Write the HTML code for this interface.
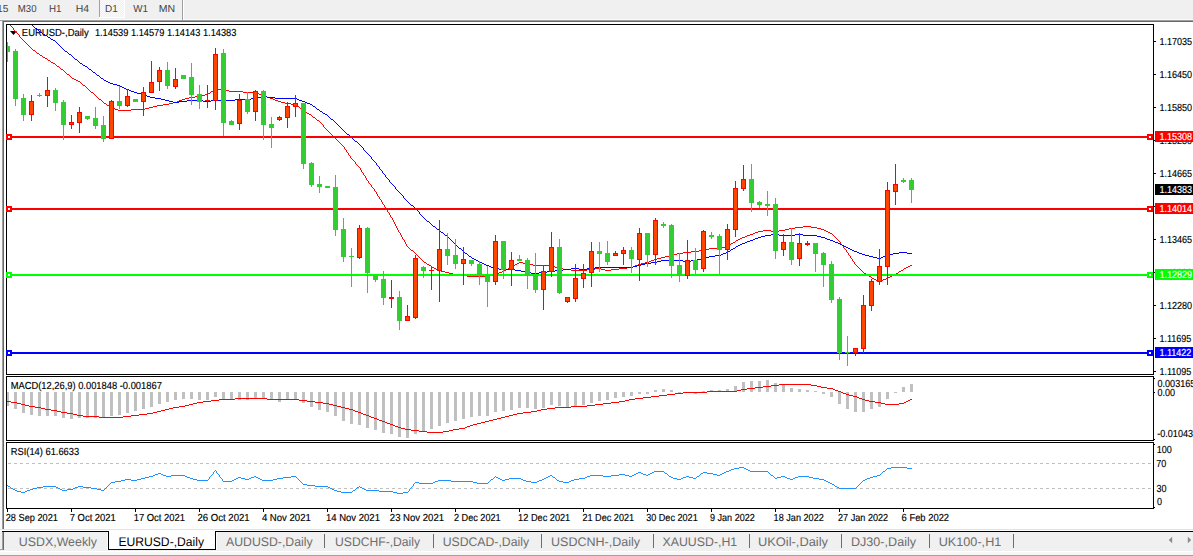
<!DOCTYPE html>
<html><head><meta charset="utf-8"><title>EURUSD-,Daily</title>
<style>
html,body{margin:0;padding:0;background:#f0f0f0;}
body{width:1193px;height:556px;overflow:hidden;position:relative;}
svg{position:absolute;left:0;top:0;display:block;font-family:"Liberation Sans", Arial, sans-serif;text-rendering:geometricPrecision;}
</style></head><body>
<svg width="1193" height="556" viewBox="0 0 1193 556">
<rect x="4" y="22" width="1189" height="507" fill="#fff"/>
<rect x="0" y="21" width="2" height="508" fill="#fafafa"/>
<rect x="0" y="20" width="1193" height="1" fill="#a0a0a0"/>
<rect x="3" y="21" width="1190" height="1" fill="#696969"/>
<rect x="2" y="20" width="1" height="510" fill="#a0a0a0"/>
<rect x="3" y="21" width="1" height="508" fill="#696969"/>
<rect x="0" y="19" width="1193" height="1" fill="#fafafa"/>
<defs><pattern id="dith" width="2" height="2" patternUnits="userSpaceOnUse"><rect width="2" height="2" fill="#f0f0f0"/><rect width="1" height="1" fill="#fbfbfb"/><rect x="1" y="1" width="1" height="1" fill="#fbfbfb"/></pattern></defs>
<rect x="99" y="0" width="26" height="18" fill="url(#dith)"/>
<rect x="99" y="0" width="1" height="18" fill="#a0a0a0"/>
<rect x="99" y="17" width="26" height="1" fill="#ffffff"/>
<rect x="124" y="0" width="1" height="18" fill="#ffffff"/>
<rect x="182" y="0" width="1" height="20" fill="#a0a0a0"/>
<rect x="183" y="0" width="1" height="20" fill="#ffffff"/>
<text x="17.81" y="12" font-size="10.2" fill="#444444" textLength="18.77" lengthAdjust="spacingAndGlyphs">M30</text>
<text x="49.00" y="12" font-size="10.2" fill="#444444" textLength="12.48" lengthAdjust="spacingAndGlyphs">H1</text>
<text x="75.84" y="12" font-size="10.2" fill="#444444" textLength="13.36" lengthAdjust="spacingAndGlyphs">H4</text>
<text x="104.99" y="12" font-size="10.2" fill="#444444" textLength="12.71" lengthAdjust="spacingAndGlyphs">D1</text>
<text x="133.15" y="12" font-size="10.2" fill="#444444" textLength="14.73" lengthAdjust="spacingAndGlyphs">W1</text>
<text x="158.74" y="12" font-size="10.2" fill="#444444" textLength="16.31" lengthAdjust="spacingAndGlyphs">MN</text>
<text x="-2.98" y="12" font-size="10.2" fill="#444444" textLength="11.41" lengthAdjust="spacingAndGlyphs">15</text>
<defs><clipPath id="cm"><rect x="7" y="25" width="1146" height="349"/></clipPath><clipPath id="cd"><rect x="7" y="377" width="1146" height="63"/></clipPath><clipPath id="cr"><rect x="7" y="443" width="1146" height="65"/></clipPath></defs>
<polygon points="10,31 17,31 13.5,35" fill="#000"/>
<text x="21.82" y="36" font-size="10.2" fill="#000" stroke="#000" stroke-width="0.15" textLength="66.90" lengthAdjust="spacingAndGlyphs">EURUSD-,Daily</text>
<text x="94.90" y="36" font-size="10.2" fill="#000" stroke="#000" stroke-width="0.15" textLength="141.52" lengthAdjust="spacingAndGlyphs">1.14539 1.14579 1.14143 1.14383</text>
<path d="M10 25h1v1h-1zM11 26h1v1h-1zM12 27h1v1h-1zM13 28h1v1h-1zM13 29h1v1h-1zM14 30h1v1h-1zM15 31h1v1h-1zM16 32h1v1h-1zM17 33h1v1h-1zM18 34h1v1h-1zM19 35h1v1h-1zM19 36h1v1h-1zM20 37h1v1h-1zM21 38h1v1h-1zM22 39h1v1h-1zM23 40h1v1h-1zM24 41h1v1h-1zM25 42h1v1h-1zM26 43h1v1h-1zM27 44h1v1h-1zM28 45h1v1h-1zM29 46h1v1h-1zM30 47h1v1h-1zM31 48h1v1h-1zM32 49h1v1h-1zM33 50h2v1h-2zM35 51h1v1h-1zM36 52h1v1h-1zM37 53h2v1h-2zM39 54h1v1h-1zM40 55h2v1h-2zM42 56h1v1h-1zM43 57h2v1h-2zM45 58h2v1h-2zM47 59h1v1h-1zM48 60h2v1h-2zM50 61h1v1h-1zM51 62h2v1h-2zM53 63h2v1h-2zM55 64h1v1h-1zM56 65h1v1h-1zM57 66h2v1h-2zM59 67h1v1h-1zM60 68h1v1h-1zM61 69h2v1h-2zM63 70h1v1h-1zM64 71h1v1h-1zM65 72h1v1h-1zM66 73h1v1h-1zM67 74h2v1h-2zM69 75h1v1h-1zM70 76h1v1h-1zM71 77h1v1h-1zM72 78h2v1h-2zM74 79h2v1h-2zM76 80h2v1h-2zM78 81h2v1h-2zM80 82h1v1h-1zM81 83h1v1h-1zM82 84h1v1h-1zM83 85h2v1h-2zM85 86h1v1h-1zM86 87h1v1h-1zM87 88h1v1h-1zM88 89h1v1h-1zM215 89h10v1h-10zM89 90h1v1h-1zM213 90h2v1h-2zM225 90h4v1h-4zM90 91h1v1h-1zM211 91h2v1h-2zM229 91h14v1h-14zM91 92h2v1h-2zM210 92h1v1h-1zM243 92h14v1h-14zM93 93h1v1h-1zM208 93h2v1h-2zM257 93h2v1h-2zM94 94h1v1h-1zM205 94h3v1h-3zM259 94h3v1h-3zM95 95h1v1h-1zM201 95h4v1h-4zM262 95h3v1h-3zM96 96h1v1h-1zM195 96h6v1h-6zM265 96h2v1h-2zM97 97h1v1h-1zM189 97h6v1h-6zM267 97h3v1h-3zM98 98h1v1h-1zM185 98h4v1h-4zM270 98h3v1h-3zM99 99h2v1h-2zM182 99h3v1h-3zM273 99h2v1h-2zM101 100h1v1h-1zM179 100h3v1h-3zM275 100h3v1h-3zM102 101h1v1h-1zM177 101h2v1h-2zM278 101h3v1h-3zM103 102h1v1h-1zM173 102h4v1h-4zM281 102h4v1h-4zM104 103h2v1h-2zM169 103h4v1h-4zM285 103h6v1h-6zM106 104h1v1h-1zM163 104h6v1h-6zM291 104h5v1h-5zM107 105h2v1h-2zM157 105h6v1h-6zM296 105h1v1h-1zM109 106h2v1h-2zM153 106h4v1h-4zM297 106h2v1h-2zM111 107h2v1h-2zM149 107h4v1h-4zM299 107h1v1h-1zM113 108h2v1h-2zM145 108h4v1h-4zM300 108h1v1h-1zM115 109h3v1h-3zM131 109h14v1h-14zM301 109h2v1h-2zM118 110h13v1h-13zM303 110h1v1h-1zM304 111h2v1h-2zM306 112h1v1h-1zM307 113h2v1h-2zM309 114h2v1h-2zM311 115h1v1h-1zM312 116h1v1h-1zM313 117h2v1h-2zM315 118h1v1h-1zM316 119h1v1h-1zM317 120h2v1h-2zM319 121h1v1h-1zM320 122h1v1h-1zM321 123h1v1h-1zM322 124h1v1h-1zM323 125h1v1h-1zM323 126h1v1h-1zM324 127h1v1h-1zM325 128h1v1h-1zM326 129h1v1h-1zM327 130h1v1h-1zM328 131h1v1h-1zM329 132h1v1h-1zM330 133h1v1h-1zM331 134h1v1h-1zM332 135h1v1h-1zM333 136h1v1h-1zM334 137h1v1h-1zM335 138h1v1h-1zM336 139h1v1h-1zM337 140h1v1h-1zM338 141h1v1h-1zM339 142h1v1h-1zM340 143h1v1h-1zM341 144h1v1h-1zM342 145h1v1h-1zM343 146h1v1h-1zM344 147h1v1h-1zM344 148h1v1h-1zM345 149h1v1h-1zM346 150h1v1h-1zM346 151h1v1h-1zM347 152h1v1h-1zM348 153h1v1h-1zM348 154h1v1h-1zM349 155h1v1h-1zM350 156h1v1h-1zM350 157h1v1h-1zM351 158h1v1h-1zM352 159h1v1h-1zM353 160h1v1h-1zM354 161h1v1h-1zM355 162h1v1h-1zM355 163h1v1h-1zM356 164h1v1h-1zM357 165h1v1h-1zM358 166h1v1h-1zM359 167h1v1h-1zM360 168h1v1h-1zM360 169h1v1h-1zM361 170h1v1h-1zM361 171h1v1h-1zM362 172h1v1h-1zM363 173h1v1h-1zM363 174h1v1h-1zM364 175h1v1h-1zM365 176h1v1h-1zM365 177h1v1h-1zM366 178h1v1h-1zM366 179h1v1h-1zM367 180h1v1h-1zM368 181h1v1h-1zM368 182h1v1h-1zM369 183h1v1h-1zM370 184h1v1h-1zM371 185h1v1h-1zM371 186h1v1h-1zM372 187h1v1h-1zM373 188h1v1h-1zM374 189h1v1h-1zM374 190h1v1h-1zM375 191h1v1h-1zM376 192h1v1h-1zM376 193h1v1h-1zM377 194h1v1h-1zM377 195h1v1h-1zM378 196h1v1h-1zM379 197h1v1h-1zM379 198h1v1h-1zM380 199h1v1h-1zM381 200h1v1h-1zM381 201h1v1h-1zM382 202h1v1h-1zM382 203h1v1h-1zM383 204h1v1h-1zM384 205h1v1h-1zM384 206h1v1h-1zM385 207h1v1h-1zM385 208h1v1h-1zM386 209h1v1h-1zM387 210h1v1h-1zM387 211h1v1h-1zM388 212h1v1h-1zM389 213h1v1h-1zM389 214h1v1h-1zM390 215h1v1h-1zM390 216h1v1h-1zM391 217h1v1h-1zM392 218h1v1h-1zM392 219h1v1h-1zM393 220h1v1h-1zM393 221h1v1h-1zM394 222h1v1h-1zM394 223h1v1h-1zM395 224h1v1h-1zM395 225h1v1h-1zM396 226h1v1h-1zM803 226h8v1h-8zM396 227h1v1h-1zM795 227h8v1h-8zM811 227h6v1h-6zM397 228h1v1h-1zM789 228h6v1h-6zM817 228h4v1h-4zM397 229h1v1h-1zM785 229h4v1h-4zM821 229h3v1h-3zM398 230h1v1h-1zM763 230h8v1h-8zM779 230h6v1h-6zM824 230h2v1h-2zM398 231h1v1h-1zM758 231h5v1h-5zM771 231h8v1h-8zM826 231h2v1h-2zM399 232h1v1h-1zM755 232h3v1h-3zM828 232h2v1h-2zM400 233h1v1h-1zM753 233h2v1h-2zM830 233h2v1h-2zM400 234h1v1h-1zM750 234h3v1h-3zM832 234h1v1h-1zM401 235h1v1h-1zM747 235h3v1h-3zM833 235h1v1h-1zM401 236h1v1h-1zM745 236h2v1h-2zM834 236h1v1h-1zM402 237h1v1h-1zM742 237h3v1h-3zM835 237h1v1h-1zM402 238h1v1h-1zM740 238h2v1h-2zM836 238h1v1h-1zM403 239h1v1h-1zM738 239h2v1h-2zM837 239h1v1h-1zM404 240h1v1h-1zM736 240h2v1h-2zM838 240h1v1h-1zM404 241h1v1h-1zM735 241h1v1h-1zM839 241h1v1h-1zM405 242h1v1h-1zM733 242h2v1h-2zM840 242h1v1h-1zM405 243h1v1h-1zM731 243h2v1h-2zM840 243h1v1h-1zM406 244h1v1h-1zM730 244h1v1h-1zM841 244h1v1h-1zM406 245h1v1h-1zM728 245h2v1h-2zM842 245h1v1h-1zM407 246h1v1h-1zM725 246h3v1h-3zM843 246h1v1h-1zM408 247h1v1h-1zM721 247h4v1h-4zM843 247h1v1h-1zM409 248h1v1h-1zM709 248h12v1h-12zM844 248h1v1h-1zM410 249h1v1h-1zM705 249h4v1h-4zM845 249h1v1h-1zM411 250h2v1h-2zM699 250h6v1h-6zM846 250h1v1h-1zM413 251h1v1h-1zM691 251h8v1h-8zM846 251h1v1h-1zM414 252h1v1h-1zM683 252h8v1h-8zM847 252h1v1h-1zM415 253h1v1h-1zM677 253h6v1h-6zM848 253h1v1h-1zM416 254h1v1h-1zM673 254h4v1h-4zM848 254h1v1h-1zM417 255h1v1h-1zM669 255h4v1h-4zM849 255h1v1h-1zM418 256h1v1h-1zM665 256h4v1h-4zM850 256h1v1h-1zM419 257h1v1h-1zM661 257h4v1h-4zM850 257h1v1h-1zM420 258h1v1h-1zM657 258h4v1h-4zM851 258h1v1h-1zM421 259h1v1h-1zM654 259h3v1h-3zM852 259h1v1h-1zM422 260h1v1h-1zM651 260h3v1h-3zM852 260h1v1h-1zM423 261h1v1h-1zM649 261h2v1h-2zM853 261h1v1h-1zM424 262h2v1h-2zM519 262h4v1h-4zM645 262h4v1h-4zM854 262h1v1h-1zM426 263h1v1h-1zM517 263h2v1h-2zM523 263h6v1h-6zM641 263h4v1h-4zM854 263h1v1h-1zM427 264h2v1h-2zM515 264h2v1h-2zM529 264h4v1h-4zM638 264h3v1h-3zM855 264h1v1h-1zM429 265h2v1h-2zM514 265h1v1h-1zM533 265h20v1h-20zM635 265h3v1h-3zM856 265h1v1h-1zM910 265h2v1h-2zM431 266h1v1h-1zM512 266h2v1h-2zM553 266h2v1h-2zM633 266h2v1h-2zM857 266h1v1h-1zM908 266h2v1h-2zM432 267h2v1h-2zM510 267h2v1h-2zM555 267h3v1h-3zM627 267h6v1h-6zM858 267h1v1h-1zM906 267h2v1h-2zM434 268h2v1h-2zM508 268h2v1h-2zM558 268h5v1h-5zM595 268h6v1h-6zM619 268h8v1h-8zM859 268h1v1h-1zM904 268h2v1h-2zM436 269h2v1h-2zM506 269h2v1h-2zM563 269h8v1h-8zM587 269h8v1h-8zM601 269h4v1h-4zM611 269h8v1h-8zM860 269h1v1h-1zM903 269h1v1h-1zM438 270h3v1h-3zM504 270h2v1h-2zM571 270h16v1h-16zM605 270h6v1h-6zM861 270h1v1h-1zM901 270h2v1h-2zM441 271h4v1h-4zM502 271h2v1h-2zM862 271h1v1h-1zM899 271h2v1h-2zM445 272h4v1h-4zM499 272h3v1h-3zM863 272h1v1h-1zM898 272h1v1h-1zM449 273h4v1h-4zM497 273h2v1h-2zM864 273h2v1h-2zM896 273h2v1h-2zM453 274h6v1h-6zM493 274h4v1h-4zM866 274h1v1h-1zM894 274h2v1h-2zM459 275h8v1h-8zM489 275h4v1h-4zM867 275h2v1h-2zM892 275h2v1h-2zM467 276h22v1h-22zM869 276h2v1h-2zM890 276h2v1h-2zM871 277h1v1h-1zM888 277h2v1h-2zM872 278h2v1h-2zM886 278h2v1h-2zM874 279h2v1h-2zM883 279h3v1h-3zM876 280h2v1h-2zM881 280h2v1h-2zM878 281h3v1h-3z" fill="#ff0000"/>
<path d="M32 25h1v1h-1zM33 26h1v1h-1zM34 27h1v1h-1zM35 28h2v1h-2zM37 29h1v1h-1zM38 30h1v1h-1zM39 31h1v1h-1zM40 32h2v1h-2zM42 33h1v1h-1zM43 34h2v1h-2zM45 35h2v1h-2zM47 36h1v1h-1zM48 37h2v1h-2zM50 38h1v1h-1zM51 39h2v1h-2zM53 40h2v1h-2zM55 41h1v1h-1zM56 42h1v1h-1zM57 43h1v1h-1zM58 44h1v1h-1zM59 45h1v1h-1zM60 46h1v1h-1zM61 47h1v1h-1zM62 48h1v1h-1zM63 49h1v1h-1zM64 50h1v1h-1zM65 51h2v1h-2zM67 52h1v1h-1zM68 53h1v1h-1zM69 54h2v1h-2zM71 55h1v1h-1zM72 56h1v1h-1zM73 57h1v1h-1zM74 58h1v1h-1zM75 59h2v1h-2zM77 60h1v1h-1zM78 61h1v1h-1zM79 62h1v1h-1zM80 63h2v1h-2zM82 64h1v1h-1zM83 65h2v1h-2zM85 66h2v1h-2zM87 67h1v1h-1zM88 68h1v1h-1zM89 69h2v1h-2zM91 70h1v1h-1zM92 71h1v1h-1zM93 72h2v1h-2zM95 73h1v1h-1zM96 74h1v1h-1zM97 75h2v1h-2zM99 76h1v1h-1zM100 77h1v1h-1zM101 78h2v1h-2zM103 79h1v1h-1zM104 80h2v1h-2zM106 81h2v1h-2zM108 82h2v1h-2zM110 83h3v1h-3zM113 84h4v1h-4zM117 85h3v1h-3zM120 86h2v1h-2zM122 87h2v1h-2zM124 88h2v1h-2zM126 89h3v1h-3zM129 90h2v1h-2zM131 91h3v1h-3zM134 92h3v1h-3zM137 93h4v1h-4zM141 94h4v1h-4zM145 95h2v1h-2zM147 96h3v1h-3zM261 96h6v1h-6zM150 97h5v1h-5zM257 97h4v1h-4zM267 97h8v1h-8zM155 98h6v1h-6zM251 98h6v1h-6zM275 98h22v1h-22zM161 99h4v1h-4zM235 99h16v1h-16zM297 99h2v1h-2zM165 100h4v1h-4zM187 100h16v1h-16zM211 100h24v1h-24zM299 100h3v1h-3zM169 101h4v1h-4zM179 101h8v1h-8zM203 101h8v1h-8zM302 101h3v1h-3zM173 102h6v1h-6zM305 102h2v1h-2zM307 103h3v1h-3zM310 104h2v1h-2zM312 105h1v1h-1zM313 106h2v1h-2zM315 107h1v1h-1zM316 108h1v1h-1zM317 109h2v1h-2zM319 110h1v1h-1zM320 111h2v1h-2zM322 112h1v1h-1zM323 113h2v1h-2zM325 114h2v1h-2zM327 115h1v1h-1zM328 116h1v1h-1zM329 117h1v1h-1zM330 118h1v1h-1zM331 119h2v1h-2zM333 120h1v1h-1zM334 121h1v1h-1zM335 122h1v1h-1zM336 123h1v1h-1zM337 124h1v1h-1zM338 125h1v1h-1zM339 126h1v1h-1zM340 127h1v1h-1zM341 128h1v1h-1zM342 129h1v1h-1zM343 130h1v1h-1zM344 131h1v1h-1zM345 132h1v1h-1zM346 133h1v1h-1zM347 134h2v1h-2zM349 135h1v1h-1zM350 136h1v1h-1zM351 137h1v1h-1zM352 138h1v1h-1zM353 139h1v1h-1zM354 140h1v1h-1zM355 141h2v1h-2zM357 142h1v1h-1zM358 143h1v1h-1zM359 144h1v1h-1zM360 145h1v1h-1zM361 146h1v1h-1zM362 147h1v1h-1zM363 148h1v1h-1zM363 149h1v1h-1zM364 150h1v1h-1zM365 151h1v1h-1zM366 152h1v1h-1zM367 153h1v1h-1zM368 154h1v1h-1zM369 155h1v1h-1zM370 156h1v1h-1zM371 157h1v1h-1zM371 158h1v1h-1zM372 159h1v1h-1zM373 160h1v1h-1zM374 161h1v1h-1zM375 162h1v1h-1zM376 163h1v1h-1zM376 164h1v1h-1zM377 165h1v1h-1zM378 166h1v1h-1zM379 167h1v1h-1zM379 168h1v1h-1zM380 169h1v1h-1zM381 170h1v1h-1zM382 171h1v1h-1zM382 172h1v1h-1zM383 173h1v1h-1zM384 174h1v1h-1zM385 175h1v1h-1zM385 176h1v1h-1zM386 177h1v1h-1zM387 178h1v1h-1zM388 179h1v1h-1zM389 180h1v1h-1zM389 181h1v1h-1zM390 182h1v1h-1zM391 183h1v1h-1zM392 184h1v1h-1zM393 185h1v1h-1zM394 186h1v1h-1zM395 187h1v1h-1zM395 188h1v1h-1zM396 189h1v1h-1zM397 190h1v1h-1zM398 191h1v1h-1zM399 192h1v1h-1zM400 193h1v1h-1zM401 194h1v1h-1zM402 195h1v1h-1zM403 196h1v1h-1zM403 197h1v1h-1zM404 198h1v1h-1zM405 199h1v1h-1zM406 200h1v1h-1zM407 201h1v1h-1zM408 202h1v1h-1zM409 203h1v1h-1zM410 204h1v1h-1zM411 205h2v1h-2zM413 206h1v1h-1zM414 207h1v1h-1zM415 208h1v1h-1zM416 209h1v1h-1zM417 210h1v1h-1zM418 211h1v1h-1zM419 212h1v1h-1zM419 213h1v1h-1zM420 214h1v1h-1zM421 215h1v1h-1zM422 216h1v1h-1zM423 217h1v1h-1zM424 218h1v1h-1zM425 219h1v1h-1zM426 220h1v1h-1zM427 221h2v1h-2zM429 222h1v1h-1zM430 223h1v1h-1zM431 224h1v1h-1zM432 225h1v1h-1zM433 226h2v1h-2zM435 227h1v1h-1zM436 228h1v1h-1zM437 229h2v1h-2zM439 230h1v1h-1zM440 231h1v1h-1zM441 232h2v1h-2zM443 233h1v1h-1zM444 234h1v1h-1zM771 234h8v1h-8zM795 234h8v1h-8zM445 235h2v1h-2zM765 235h6v1h-6zM779 235h16v1h-16zM803 235h14v1h-14zM447 236h1v1h-1zM761 236h4v1h-4zM817 236h4v1h-4zM448 237h1v1h-1zM758 237h3v1h-3zM821 237h4v1h-4zM449 238h1v1h-1zM755 238h3v1h-3zM825 238h2v1h-2zM450 239h1v1h-1zM753 239h2v1h-2zM827 239h3v1h-3zM451 240h1v1h-1zM750 240h3v1h-3zM830 240h3v1h-3zM452 241h1v1h-1zM747 241h3v1h-3zM833 241h2v1h-2zM453 242h1v1h-1zM745 242h2v1h-2zM835 242h3v1h-3zM454 243h1v1h-1zM742 243h3v1h-3zM838 243h2v1h-2zM455 244h1v1h-1zM740 244h2v1h-2zM840 244h2v1h-2zM456 245h1v1h-1zM738 245h2v1h-2zM842 245h2v1h-2zM457 246h1v1h-1zM736 246h2v1h-2zM844 246h2v1h-2zM458 247h1v1h-1zM735 247h1v1h-1zM846 247h2v1h-2zM459 248h2v1h-2zM733 248h2v1h-2zM848 248h2v1h-2zM461 249h1v1h-1zM731 249h2v1h-2zM850 249h2v1h-2zM462 250h1v1h-1zM730 250h1v1h-1zM852 250h2v1h-2zM463 251h1v1h-1zM728 251h2v1h-2zM854 251h3v1h-3zM464 252h1v1h-1zM726 252h2v1h-2zM857 252h2v1h-2zM899 252h8v1h-8zM465 253h2v1h-2zM723 253h3v1h-3zM859 253h3v1h-3zM893 253h6v1h-6zM907 253h5v1h-5zM467 254h1v1h-1zM721 254h2v1h-2zM862 254h3v1h-3zM889 254h4v1h-4zM468 255h1v1h-1zM715 255h6v1h-6zM865 255h4v1h-4zM886 255h3v1h-3zM469 256h2v1h-2zM709 256h6v1h-6zM869 256h4v1h-4zM883 256h3v1h-3zM471 257h1v1h-1zM705 257h4v1h-4zM873 257h4v1h-4zM881 257h2v1h-2zM472 258h2v1h-2zM701 258h4v1h-4zM877 258h4v1h-4zM474 259h2v1h-2zM697 259h4v1h-4zM476 260h2v1h-2zM661 260h22v1h-22zM691 260h6v1h-6zM478 261h2v1h-2zM657 261h4v1h-4zM683 261h8v1h-8zM480 262h2v1h-2zM651 262h6v1h-6zM482 263h2v1h-2zM645 263h6v1h-6zM484 264h2v1h-2zM641 264h4v1h-4zM486 265h3v1h-3zM637 265h4v1h-4zM489 266h2v1h-2zM633 266h4v1h-4zM491 267h3v1h-3zM595 267h38v1h-38zM494 268h5v1h-5zM571 268h8v1h-8zM587 268h8v1h-8zM499 269h16v1h-16zM563 269h8v1h-8zM579 269h8v1h-8zM515 270h6v1h-6zM555 270h8v1h-8zM521 271h4v1h-4zM547 271h8v1h-8zM525 272h6v1h-6zM539 272h8v1h-8zM531 273h8v1h-8z" fill="#0000ff"/>
<rect x="7" y="136" width="1146" height="2" fill="#ff0000"/>
<rect x="7" y="208" width="1146" height="2" fill="#ff0000"/>
<rect x="7" y="274" width="1146" height="2" fill="#00ff00"/>
<rect x="7" y="352" width="1146" height="2" fill="#0000ff"/>
<g clip-path="url(#cm)" shape-rendering="crispEdges"><rect x="7" y="42" width="1" height="20" fill="#32cd32"/><rect x="5" y="46" width="5" height="6" fill="#32cd32"/><rect x="15" y="49" width="1" height="57" fill="#32cd32"/><rect x="13" y="51" width="5" height="48" fill="#32cd32"/><rect x="23" y="94" width="1" height="27" fill="#32cd32"/><rect x="21" y="98" width="5" height="17" fill="#32cd32"/><rect x="31" y="95" width="1" height="26" fill="#ff0000"/><rect x="29" y="101" width="5" height="14" fill="#ff0000"/><rect x="30" y="102" width="3" height="12" fill="#ff4500"/><rect x="39" y="93" width="1" height="4" fill="#32cd32"/><rect x="37" y="95" width="5" height="1" fill="#32cd32"/><rect x="47" y="77" width="1" height="30" fill="#ff0000"/><rect x="45" y="90" width="5" height="6" fill="#ff0000"/><rect x="46" y="91" width="3" height="4" fill="#ff4500"/><rect x="55" y="88" width="1" height="23" fill="#32cd32"/><rect x="53" y="90" width="5" height="13" fill="#32cd32"/><rect x="63" y="100" width="1" height="40" fill="#32cd32"/><rect x="61" y="102" width="5" height="23" fill="#32cd32"/><rect x="71" y="115" width="1" height="14" fill="#ff0000"/><rect x="69" y="122" width="5" height="3" fill="#ff0000"/><rect x="70" y="123" width="3" height="1" fill="#ff4500"/><rect x="79" y="107" width="1" height="26" fill="#ff0000"/><rect x="77" y="112" width="5" height="11" fill="#ff0000"/><rect x="78" y="113" width="3" height="9" fill="#ff4500"/><rect x="87" y="116" width="1" height="4" fill="#32cd32"/><rect x="85" y="116" width="5" height="3" fill="#32cd32"/><rect x="95" y="107" width="1" height="22" fill="#32cd32"/><rect x="93" y="118" width="5" height="8" fill="#32cd32"/><rect x="103" y="116" width="1" height="26" fill="#32cd32"/><rect x="101" y="125" width="5" height="14" fill="#32cd32"/><rect x="111" y="100" width="1" height="39" fill="#ff0000"/><rect x="109" y="101" width="5" height="38" fill="#ff0000"/><rect x="110" y="102" width="3" height="36" fill="#ff4500"/><rect x="119" y="86" width="1" height="23" fill="#32cd32"/><rect x="117" y="101" width="5" height="5" fill="#32cd32"/><rect x="127" y="89" width="1" height="18" fill="#ff0000"/><rect x="125" y="96" width="5" height="10" fill="#ff0000"/><rect x="126" y="97" width="3" height="8" fill="#ff4500"/><rect x="135" y="99" width="1" height="3" fill="#32cd32"/><rect x="133" y="99" width="5" height="3" fill="#32cd32"/><rect x="143" y="87" width="1" height="29" fill="#ff0000"/><rect x="141" y="92" width="5" height="10" fill="#ff0000"/><rect x="142" y="93" width="3" height="8" fill="#ff4500"/><rect x="151" y="61" width="1" height="32" fill="#ff0000"/><rect x="149" y="82" width="5" height="11" fill="#ff0000"/><rect x="150" y="83" width="3" height="9" fill="#ff4500"/><rect x="159" y="67" width="1" height="24" fill="#ff0000"/><rect x="157" y="70" width="5" height="12" fill="#ff0000"/><rect x="158" y="71" width="3" height="10" fill="#ff4500"/><rect x="167" y="62" width="1" height="27" fill="#32cd32"/><rect x="165" y="70" width="5" height="16" fill="#32cd32"/><rect x="175" y="68" width="1" height="21" fill="#ff0000"/><rect x="173" y="79" width="5" height="8" fill="#ff0000"/><rect x="174" y="80" width="3" height="6" fill="#ff4500"/><rect x="183" y="75" width="1" height="4" fill="#32cd32"/><rect x="181" y="75" width="5" height="4" fill="#32cd32"/><rect x="191" y="63" width="1" height="42" fill="#32cd32"/><rect x="189" y="77" width="5" height="18" fill="#32cd32"/><rect x="199" y="85" width="1" height="24" fill="#32cd32"/><rect x="197" y="94" width="5" height="8" fill="#32cd32"/><rect x="207" y="85" width="1" height="23" fill="#ff0000"/><rect x="205" y="100" width="5" height="1" fill="#ff0000"/><rect x="215" y="48" width="1" height="62" fill="#ff0000"/><rect x="213" y="54" width="5" height="47" fill="#ff0000"/><rect x="214" y="55" width="3" height="45" fill="#ff4500"/><rect x="223" y="49" width="1" height="87" fill="#32cd32"/><rect x="221" y="53" width="5" height="70" fill="#32cd32"/><rect x="231" y="120" width="1" height="5" fill="#32cd32"/><rect x="229" y="121" width="5" height="4" fill="#32cd32"/><rect x="239" y="94" width="1" height="36" fill="#ff0000"/><rect x="237" y="100" width="5" height="24" fill="#ff0000"/><rect x="238" y="101" width="3" height="22" fill="#ff4500"/><rect x="247" y="92" width="1" height="22" fill="#32cd32"/><rect x="245" y="99" width="5" height="13" fill="#32cd32"/><rect x="255" y="90" width="1" height="31" fill="#ff0000"/><rect x="253" y="91" width="5" height="21" fill="#ff0000"/><rect x="254" y="92" width="3" height="19" fill="#ff4500"/><rect x="263" y="90" width="1" height="50" fill="#32cd32"/><rect x="261" y="91" width="5" height="34" fill="#32cd32"/><rect x="271" y="117" width="1" height="31" fill="#32cd32"/><rect x="269" y="124" width="5" height="4" fill="#32cd32"/><rect x="279" y="116" width="1" height="5" fill="#ff0000"/><rect x="277" y="117" width="5" height="3" fill="#ff0000"/><rect x="278" y="118" width="3" height="1" fill="#ff4500"/><rect x="287" y="102" width="1" height="26" fill="#ff0000"/><rect x="285" y="106" width="5" height="12" fill="#ff0000"/><rect x="286" y="107" width="3" height="10" fill="#ff4500"/><rect x="295" y="95" width="1" height="22" fill="#ff0000"/><rect x="293" y="103" width="5" height="4" fill="#ff0000"/><rect x="294" y="104" width="3" height="2" fill="#ff4500"/><rect x="303" y="103" width="1" height="66" fill="#32cd32"/><rect x="301" y="103" width="5" height="61" fill="#32cd32"/><rect x="311" y="162" width="1" height="25" fill="#32cd32"/><rect x="309" y="163" width="5" height="22" fill="#32cd32"/><rect x="319" y="176" width="1" height="17" fill="#32cd32"/><rect x="317" y="184" width="5" height="3" fill="#32cd32"/><rect x="327" y="186" width="1" height="2" fill="#32cd32"/><rect x="325" y="186" width="5" height="2" fill="#32cd32"/><rect x="335" y="175" width="1" height="61" fill="#32cd32"/><rect x="333" y="187" width="5" height="43" fill="#32cd32"/><rect x="343" y="218" width="1" height="44" fill="#32cd32"/><rect x="341" y="229" width="5" height="28" fill="#32cd32"/><rect x="351" y="248" width="1" height="39" fill="#32cd32"/><rect x="349" y="256" width="5" height="1" fill="#32cd32"/><rect x="359" y="225" width="1" height="34" fill="#ff0000"/><rect x="357" y="228" width="5" height="30" fill="#ff0000"/><rect x="358" y="229" width="3" height="28" fill="#ff4500"/><rect x="367" y="227" width="1" height="66" fill="#32cd32"/><rect x="365" y="228" width="5" height="45" fill="#32cd32"/><rect x="375" y="275" width="1" height="7" fill="#32cd32"/><rect x="373" y="275" width="5" height="5" fill="#32cd32"/><rect x="383" y="271" width="1" height="34" fill="#32cd32"/><rect x="381" y="279" width="5" height="19" fill="#32cd32"/><rect x="391" y="280" width="1" height="28" fill="#ff0000"/><rect x="389" y="297" width="5" height="2" fill="#ff0000"/><rect x="399" y="291" width="1" height="39" fill="#32cd32"/><rect x="397" y="297" width="5" height="24" fill="#32cd32"/><rect x="407" y="305" width="1" height="16" fill="#ff0000"/><rect x="405" y="316" width="5" height="5" fill="#ff0000"/><rect x="406" y="317" width="3" height="3" fill="#ff4500"/><rect x="415" y="255" width="1" height="64" fill="#ff0000"/><rect x="413" y="258" width="5" height="60" fill="#ff0000"/><rect x="414" y="259" width="3" height="58" fill="#ff4500"/><rect x="423" y="266" width="1" height="12" fill="#32cd32"/><rect x="421" y="267" width="5" height="4" fill="#32cd32"/><rect x="431" y="267" width="1" height="23" fill="#ff0000"/><rect x="429" y="270" width="5" height="1" fill="#ff0000"/><rect x="439" y="220" width="1" height="82" fill="#ff0000"/><rect x="437" y="249" width="5" height="22" fill="#ff0000"/><rect x="438" y="250" width="3" height="20" fill="#ff4500"/><rect x="447" y="233" width="1" height="32" fill="#32cd32"/><rect x="445" y="249" width="5" height="7" fill="#32cd32"/><rect x="455" y="239" width="1" height="30" fill="#32cd32"/><rect x="453" y="255" width="5" height="9" fill="#32cd32"/><rect x="463" y="247" width="1" height="38" fill="#ff0000"/><rect x="461" y="259" width="5" height="5" fill="#ff0000"/><rect x="462" y="260" width="3" height="3" fill="#ff4500"/><rect x="471" y="260" width="1" height="6" fill="#32cd32"/><rect x="469" y="260" width="5" height="4" fill="#32cd32"/><rect x="479" y="261" width="1" height="24" fill="#32cd32"/><rect x="477" y="264" width="5" height="11" fill="#32cd32"/><rect x="487" y="266" width="1" height="41" fill="#32cd32"/><rect x="485" y="275" width="5" height="7" fill="#32cd32"/><rect x="495" y="235" width="1" height="50" fill="#ff0000"/><rect x="493" y="241" width="5" height="41" fill="#ff0000"/><rect x="494" y="242" width="3" height="39" fill="#ff4500"/><rect x="503" y="241" width="1" height="38" fill="#32cd32"/><rect x="501" y="241" width="5" height="29" fill="#32cd32"/><rect x="511" y="252" width="1" height="34" fill="#ff0000"/><rect x="509" y="260" width="5" height="10" fill="#ff0000"/><rect x="510" y="261" width="3" height="8" fill="#ff4500"/><rect x="519" y="255" width="1" height="6" fill="#32cd32"/><rect x="517" y="259" width="5" height="2" fill="#32cd32"/><rect x="527" y="258" width="1" height="31" fill="#32cd32"/><rect x="525" y="260" width="5" height="16" fill="#32cd32"/><rect x="535" y="253" width="1" height="40" fill="#32cd32"/><rect x="533" y="275" width="5" height="15" fill="#32cd32"/><rect x="543" y="265" width="1" height="45" fill="#ff0000"/><rect x="541" y="271" width="5" height="19" fill="#ff0000"/><rect x="542" y="272" width="3" height="17" fill="#ff4500"/><rect x="551" y="232" width="1" height="45" fill="#ff0000"/><rect x="549" y="247" width="5" height="25" fill="#ff0000"/><rect x="550" y="248" width="3" height="23" fill="#ff4500"/><rect x="559" y="239" width="1" height="55" fill="#32cd32"/><rect x="557" y="247" width="5" height="46" fill="#32cd32"/><rect x="567" y="297" width="1" height="6" fill="#ff0000"/><rect x="565" y="297" width="5" height="5" fill="#ff0000"/><rect x="566" y="298" width="3" height="3" fill="#ff4500"/><rect x="575" y="264" width="1" height="38" fill="#ff0000"/><rect x="573" y="278" width="5" height="21" fill="#ff0000"/><rect x="574" y="279" width="3" height="19" fill="#ff4500"/><rect x="583" y="264" width="1" height="24" fill="#ff0000"/><rect x="581" y="273" width="5" height="6" fill="#ff0000"/><rect x="582" y="274" width="3" height="4" fill="#ff4500"/><rect x="591" y="242" width="1" height="45" fill="#ff0000"/><rect x="589" y="251" width="5" height="22" fill="#ff0000"/><rect x="590" y="252" width="3" height="20" fill="#ff4500"/><rect x="599" y="242" width="1" height="30" fill="#32cd32"/><rect x="597" y="251" width="5" height="3" fill="#32cd32"/><rect x="607" y="241" width="1" height="24" fill="#32cd32"/><rect x="605" y="253" width="5" height="9" fill="#32cd32"/><rect x="615" y="251" width="1" height="5" fill="#ff0000"/><rect x="613" y="253" width="5" height="3" fill="#ff0000"/><rect x="614" y="254" width="3" height="1" fill="#ff4500"/><rect x="623" y="247" width="1" height="18" fill="#ff0000"/><rect x="621" y="250" width="5" height="4" fill="#ff0000"/><rect x="622" y="251" width="3" height="2" fill="#ff4500"/><rect x="631" y="247" width="1" height="26" fill="#32cd32"/><rect x="629" y="250" width="5" height="9" fill="#32cd32"/><rect x="639" y="228" width="1" height="53" fill="#ff0000"/><rect x="637" y="233" width="5" height="27" fill="#ff0000"/><rect x="638" y="234" width="3" height="25" fill="#ff4500"/><rect x="647" y="233" width="1" height="34" fill="#32cd32"/><rect x="645" y="233" width="5" height="22" fill="#32cd32"/><rect x="655" y="218" width="1" height="47" fill="#ff0000"/><rect x="653" y="220" width="5" height="35" fill="#ff0000"/><rect x="654" y="221" width="3" height="33" fill="#ff4500"/><rect x="663" y="222" width="1" height="6" fill="#32cd32"/><rect x="661" y="224" width="5" height="2" fill="#32cd32"/><rect x="671" y="224" width="1" height="54" fill="#32cd32"/><rect x="669" y="225" width="5" height="41" fill="#32cd32"/><rect x="679" y="253" width="1" height="29" fill="#32cd32"/><rect x="677" y="265" width="5" height="11" fill="#32cd32"/><rect x="687" y="240" width="1" height="39" fill="#ff0000"/><rect x="685" y="260" width="5" height="16" fill="#ff0000"/><rect x="686" y="261" width="3" height="14" fill="#ff4500"/><rect x="695" y="248" width="1" height="26" fill="#32cd32"/><rect x="693" y="260" width="5" height="10" fill="#32cd32"/><rect x="703" y="230" width="1" height="42" fill="#ff0000"/><rect x="701" y="231" width="5" height="38" fill="#ff0000"/><rect x="702" y="232" width="3" height="36" fill="#ff4500"/><rect x="711" y="232" width="1" height="7" fill="#32cd32"/><rect x="709" y="235" width="5" height="2" fill="#32cd32"/><rect x="719" y="234" width="1" height="40" fill="#32cd32"/><rect x="717" y="236" width="5" height="14" fill="#32cd32"/><rect x="727" y="224" width="1" height="36" fill="#ff0000"/><rect x="725" y="229" width="5" height="21" fill="#ff0000"/><rect x="726" y="230" width="3" height="19" fill="#ff4500"/><rect x="735" y="181" width="1" height="56" fill="#ff0000"/><rect x="733" y="188" width="5" height="42" fill="#ff0000"/><rect x="734" y="189" width="3" height="40" fill="#ff4500"/><rect x="743" y="165" width="1" height="26" fill="#ff0000"/><rect x="741" y="179" width="5" height="10" fill="#ff0000"/><rect x="742" y="180" width="3" height="8" fill="#ff4500"/><rect x="751" y="164" width="1" height="48" fill="#32cd32"/><rect x="749" y="179" width="5" height="24" fill="#32cd32"/><rect x="759" y="201" width="1" height="7" fill="#32cd32"/><rect x="757" y="202" width="5" height="3" fill="#32cd32"/><rect x="767" y="191" width="1" height="25" fill="#32cd32"/><rect x="765" y="204" width="5" height="2" fill="#32cd32"/><rect x="775" y="198" width="1" height="61" fill="#32cd32"/><rect x="773" y="204" width="5" height="47" fill="#32cd32"/><rect x="783" y="234" width="1" height="22" fill="#ff0000"/><rect x="781" y="242" width="5" height="8" fill="#ff0000"/><rect x="782" y="243" width="3" height="6" fill="#ff4500"/><rect x="791" y="228" width="1" height="37" fill="#32cd32"/><rect x="789" y="242" width="5" height="18" fill="#32cd32"/><rect x="799" y="233" width="1" height="33" fill="#ff0000"/><rect x="797" y="243" width="5" height="16" fill="#ff0000"/><rect x="798" y="244" width="3" height="14" fill="#ff4500"/><rect x="807" y="241" width="1" height="5" fill="#ff0000"/><rect x="805" y="243" width="5" height="2" fill="#ff0000"/><rect x="815" y="243" width="1" height="29" fill="#32cd32"/><rect x="813" y="243" width="5" height="11" fill="#32cd32"/><rect x="823" y="252" width="1" height="35" fill="#32cd32"/><rect x="821" y="253" width="5" height="12" fill="#32cd32"/><rect x="831" y="261" width="1" height="42" fill="#32cd32"/><rect x="829" y="264" width="5" height="36" fill="#32cd32"/><rect x="839" y="297" width="1" height="63" fill="#32cd32"/><rect x="837" y="299" width="5" height="54" fill="#32cd32"/><rect x="847" y="336" width="1" height="30" fill="#32cd32"/><rect x="845" y="352" width="5" height="1" fill="#32cd32"/><rect x="855" y="348" width="1" height="8" fill="#ff0000"/><rect x="853" y="348" width="5" height="5" fill="#ff0000"/><rect x="854" y="349" width="3" height="3" fill="#ff4500"/><rect x="863" y="295" width="1" height="58" fill="#ff0000"/><rect x="861" y="305" width="5" height="44" fill="#ff0000"/><rect x="862" y="306" width="3" height="42" fill="#ff4500"/><rect x="871" y="279" width="1" height="32" fill="#ff0000"/><rect x="869" y="281" width="5" height="25" fill="#ff0000"/><rect x="870" y="282" width="3" height="23" fill="#ff4500"/><rect x="879" y="249" width="1" height="36" fill="#ff0000"/><rect x="877" y="266" width="5" height="16" fill="#ff0000"/><rect x="878" y="267" width="3" height="14" fill="#ff4500"/><rect x="887" y="182" width="1" height="103" fill="#ff0000"/><rect x="885" y="190" width="5" height="77" fill="#ff0000"/><rect x="886" y="191" width="3" height="75" fill="#ff4500"/><rect x="895" y="164" width="1" height="41" fill="#ff0000"/><rect x="893" y="184" width="5" height="8" fill="#ff0000"/><rect x="894" y="185" width="3" height="6" fill="#ff4500"/><rect x="903" y="178" width="1" height="5" fill="#32cd32"/><rect x="901" y="180" width="5" height="2" fill="#32cd32"/><rect x="911" y="178" width="1" height="25" fill="#32cd32"/><rect x="909" y="180" width="5" height="10" fill="#32cd32"/></g>
<rect x="6" y="24" width="1148" height="1" fill="#000"/>
<rect x="6" y="374" width="1148" height="1" fill="#000"/>
<rect x="6" y="24" width="1" height="351" fill="#000"/>
<rect x="1153" y="24" width="1" height="351" fill="#000"/>
<rect x="6" y="376" width="1148" height="1" fill="#000"/>
<rect x="6" y="440" width="1148" height="1" fill="#000"/>
<rect x="6" y="376" width="1" height="65" fill="#000"/>
<rect x="1153" y="376" width="1" height="65" fill="#000"/>
<rect x="6" y="442" width="1148" height="1" fill="#000"/>
<rect x="6" y="508" width="1148" height="1" fill="#000"/>
<rect x="6" y="442" width="1" height="67" fill="#000"/>
<rect x="1153" y="442" width="1" height="67" fill="#000"/>
<rect x="6" y="134" width="6" height="6" fill="#ff0000"/>
<rect x="8" y="136" width="2" height="2" fill="#fff"/>
<rect x="1147" y="134" width="6" height="6" fill="#ff0000"/>
<rect x="1149" y="136" width="2" height="2" fill="#fff"/>
<rect x="6" y="206" width="6" height="6" fill="#ff0000"/>
<rect x="8" y="208" width="2" height="2" fill="#fff"/>
<rect x="1147" y="206" width="6" height="6" fill="#ff0000"/>
<rect x="1149" y="208" width="2" height="2" fill="#fff"/>
<rect x="6" y="272" width="6" height="6" fill="#00ff00"/>
<rect x="8" y="274" width="2" height="2" fill="#fff"/>
<rect x="1147" y="272" width="6" height="6" fill="#00ff00"/>
<rect x="1149" y="274" width="2" height="2" fill="#fff"/>
<rect x="6" y="350" width="6" height="6" fill="#0000ff"/>
<rect x="8" y="352" width="2" height="2" fill="#fff"/>
<rect x="1147" y="350" width="6" height="6" fill="#0000ff"/>
<rect x="1149" y="352" width="2" height="2" fill="#fff"/>
<rect x="1154" y="41" width="2" height="1" fill="#000"/>
<text x="1159.41" y="45" font-size="10.2" fill="#000" stroke="#000" stroke-width="0.15" textLength="32.66" lengthAdjust="spacingAndGlyphs">1.17035</text>
<rect x="1154" y="74" width="2" height="1" fill="#000"/>
<text x="1159.41" y="78" font-size="10.2" fill="#000" stroke="#000" stroke-width="0.15" textLength="32.66" lengthAdjust="spacingAndGlyphs">1.16450</text>
<rect x="1154" y="107" width="2" height="1" fill="#000"/>
<text x="1159.41" y="111" font-size="10.2" fill="#000" stroke="#000" stroke-width="0.15" textLength="32.66" lengthAdjust="spacingAndGlyphs">1.15850</text>
<rect x="1154" y="140" width="2" height="1" fill="#000"/>
<text x="1159.41" y="144" font-size="10.2" fill="#000" stroke="#000" stroke-width="0.15" textLength="32.66" lengthAdjust="spacingAndGlyphs">1.15250</text>
<rect x="1154" y="173" width="2" height="1" fill="#000"/>
<text x="1159.41" y="177" font-size="10.2" fill="#000" stroke="#000" stroke-width="0.15" textLength="32.66" lengthAdjust="spacingAndGlyphs">1.14665</text>
<rect x="1154" y="206" width="2" height="1" fill="#000"/>
<text x="1159.41" y="210" font-size="10.2" fill="#000" stroke="#000" stroke-width="0.15" textLength="32.66" lengthAdjust="spacingAndGlyphs">1.14065</text>
<rect x="1154" y="239" width="2" height="1" fill="#000"/>
<text x="1159.41" y="243" font-size="10.2" fill="#000" stroke="#000" stroke-width="0.15" textLength="32.66" lengthAdjust="spacingAndGlyphs">1.13465</text>
<rect x="1154" y="272" width="2" height="1" fill="#000"/>
<text x="1159.41" y="276" font-size="10.2" fill="#000" stroke="#000" stroke-width="0.15" textLength="32.66" lengthAdjust="spacingAndGlyphs">1.12880</text>
<rect x="1154" y="305" width="2" height="1" fill="#000"/>
<text x="1159.41" y="309" font-size="10.2" fill="#000" stroke="#000" stroke-width="0.15" textLength="32.66" lengthAdjust="spacingAndGlyphs">1.12280</text>
<rect x="1154" y="338" width="2" height="1" fill="#000"/>
<text x="1159.41" y="342" font-size="10.2" fill="#000" stroke="#000" stroke-width="0.15" textLength="31.99" lengthAdjust="spacingAndGlyphs">1.11695</text>
<rect x="1154" y="371" width="2" height="1" fill="#000"/>
<text x="1159.41" y="375" font-size="10.2" fill="#000" stroke="#000" stroke-width="0.15" textLength="31.99" lengthAdjust="spacingAndGlyphs">1.11095</text>
<rect x="1155" y="131" width="38" height="11" fill="#ff0000"/>
<text x="1159.41" y="140" font-size="10.2" fill="#fff" stroke="#fff" stroke-width="0.15" textLength="32.66" lengthAdjust="spacingAndGlyphs">1.15308</text>
<rect x="1155" y="184" width="38" height="11" fill="#000000"/>
<text x="1159.41" y="193" font-size="10.2" fill="#fff" stroke="#fff" stroke-width="0.15" textLength="32.66" lengthAdjust="spacingAndGlyphs">1.14383</text>
<rect x="1155" y="203" width="38" height="11" fill="#ff0000"/>
<text x="1159.41" y="212" font-size="10.2" fill="#fff" stroke="#fff" stroke-width="0.15" textLength="32.66" lengthAdjust="spacingAndGlyphs">1.14014</text>
<rect x="1155" y="269" width="38" height="11" fill="#00ff00"/>
<text x="1159.41" y="278" font-size="10.2" fill="#fff" stroke="#fff" stroke-width="0.15" textLength="32.66" lengthAdjust="spacingAndGlyphs">1.12829</text>
<rect x="1155" y="347" width="38" height="11" fill="#0000ff"/>
<text x="1159.41" y="356" font-size="10.2" fill="#fff" stroke="#fff" stroke-width="0.15" textLength="31.99" lengthAdjust="spacingAndGlyphs">1.11422</text>
<g clip-path="url(#cd)"><g shape-rendering="crispEdges"><rect x="6" y="392" width="3" height="14" fill="#c0c0c0"/><rect x="14" y="392" width="3" height="17" fill="#c0c0c0"/><rect x="22" y="392" width="3" height="21" fill="#c0c0c0"/><rect x="30" y="392" width="3" height="23" fill="#c0c0c0"/><rect x="38" y="392" width="3" height="24" fill="#c0c0c0"/><rect x="46" y="392" width="3" height="24" fill="#c0c0c0"/><rect x="54" y="392" width="3" height="24" fill="#c0c0c0"/><rect x="62" y="392" width="3" height="26" fill="#c0c0c0"/><rect x="70" y="392" width="3" height="27" fill="#c0c0c0"/><rect x="78" y="392" width="3" height="26" fill="#c0c0c0"/><rect x="86" y="392" width="3" height="26" fill="#c0c0c0"/><rect x="94" y="392" width="3" height="26" fill="#c0c0c0"/><rect x="102" y="392" width="3" height="26" fill="#c0c0c0"/><rect x="110" y="392" width="3" height="24" fill="#c0c0c0"/><rect x="118" y="392" width="3" height="23" fill="#c0c0c0"/><rect x="126" y="392" width="3" height="21" fill="#c0c0c0"/><rect x="134" y="392" width="3" height="19" fill="#c0c0c0"/><rect x="142" y="392" width="3" height="17" fill="#c0c0c0"/><rect x="150" y="392" width="3" height="15" fill="#c0c0c0"/><rect x="158" y="392" width="3" height="12" fill="#c0c0c0"/><rect x="166" y="392" width="3" height="10" fill="#c0c0c0"/><rect x="174" y="392" width="3" height="8" fill="#c0c0c0"/><rect x="182" y="392" width="3" height="7" fill="#c0c0c0"/><rect x="190" y="392" width="3" height="7" fill="#c0c0c0"/><rect x="198" y="392" width="3" height="8" fill="#c0c0c0"/><rect x="206" y="392" width="3" height="8" fill="#c0c0c0"/><rect x="214" y="392" width="3" height="5" fill="#c0c0c0"/><rect x="222" y="392" width="3" height="7" fill="#c0c0c0"/><rect x="230" y="392" width="3" height="7" fill="#c0c0c0"/><rect x="238" y="392" width="3" height="8" fill="#c0c0c0"/><rect x="246" y="392" width="3" height="8" fill="#c0c0c0"/><rect x="254" y="392" width="3" height="6" fill="#c0c0c0"/><rect x="262" y="392" width="3" height="7" fill="#c0c0c0"/><rect x="270" y="392" width="3" height="8" fill="#c0c0c0"/><rect x="278" y="392" width="3" height="10" fill="#c0c0c0"/><rect x="286" y="392" width="3" height="8" fill="#c0c0c0"/><rect x="294" y="392" width="3" height="7" fill="#c0c0c0"/><rect x="302" y="392" width="3" height="11" fill="#c0c0c0"/><rect x="310" y="392" width="3" height="15" fill="#c0c0c0"/><rect x="318" y="392" width="3" height="18" fill="#c0c0c0"/><rect x="326" y="392" width="3" height="20" fill="#c0c0c0"/><rect x="334" y="392" width="3" height="24" fill="#c0c0c0"/><rect x="342" y="392" width="3" height="29" fill="#c0c0c0"/><rect x="350" y="392" width="3" height="32" fill="#c0c0c0"/><rect x="358" y="392" width="3" height="33" fill="#c0c0c0"/><rect x="366" y="392" width="3" height="36" fill="#c0c0c0"/><rect x="374" y="392" width="3" height="38" fill="#c0c0c0"/><rect x="382" y="392" width="3" height="41" fill="#c0c0c0"/><rect x="390" y="392" width="3" height="42" fill="#c0c0c0"/><rect x="398" y="392" width="3" height="45" fill="#c0c0c0"/><rect x="406" y="392" width="3" height="46" fill="#c0c0c0"/><rect x="414" y="392" width="3" height="42" fill="#c0c0c0"/><rect x="422" y="392" width="3" height="39" fill="#c0c0c0"/><rect x="430" y="392" width="3" height="37" fill="#c0c0c0"/><rect x="438" y="392" width="3" height="34" fill="#c0c0c0"/><rect x="446" y="392" width="3" height="31" fill="#c0c0c0"/><rect x="454" y="392" width="3" height="29" fill="#c0c0c0"/><rect x="462" y="392" width="3" height="27" fill="#c0c0c0"/><rect x="470" y="392" width="3" height="25" fill="#c0c0c0"/><rect x="478" y="392" width="3" height="24" fill="#c0c0c0"/><rect x="486" y="392" width="3" height="24" fill="#c0c0c0"/><rect x="494" y="392" width="3" height="20" fill="#c0c0c0"/><rect x="502" y="392" width="3" height="19" fill="#c0c0c0"/><rect x="510" y="392" width="3" height="18" fill="#c0c0c0"/><rect x="518" y="392" width="3" height="16" fill="#c0c0c0"/><rect x="526" y="392" width="3" height="16" fill="#c0c0c0"/><rect x="534" y="392" width="3" height="17" fill="#c0c0c0"/><rect x="542" y="392" width="3" height="16" fill="#c0c0c0"/><rect x="550" y="392" width="3" height="13" fill="#c0c0c0"/><rect x="558" y="392" width="3" height="14" fill="#c0c0c0"/><rect x="566" y="392" width="3" height="15" fill="#c0c0c0"/><rect x="574" y="392" width="3" height="14" fill="#c0c0c0"/><rect x="582" y="392" width="3" height="13" fill="#c0c0c0"/><rect x="590" y="392" width="3" height="11" fill="#c0c0c0"/><rect x="598" y="392" width="3" height="9" fill="#c0c0c0"/><rect x="606" y="392" width="3" height="8" fill="#c0c0c0"/><rect x="614" y="392" width="3" height="6" fill="#c0c0c0"/><rect x="622" y="392" width="3" height="5" fill="#c0c0c0"/><rect x="630" y="392" width="3" height="4" fill="#c0c0c0"/><rect x="638" y="392" width="3" height="2" fill="#c0c0c0"/><rect x="646" y="392" width="3" height="2" fill="#c0c0c0"/><rect x="654" y="390" width="3" height="2" fill="#c0c0c0"/><rect x="662" y="389" width="3" height="3" fill="#c0c0c0"/><rect x="670" y="390" width="3" height="2" fill="#c0c0c0"/><rect x="678" y="392" width="3" height="1" fill="#c0c0c0"/><rect x="686" y="392" width="3" height="1" fill="#c0c0c0"/><rect x="694" y="392" width="3" height="2" fill="#c0c0c0"/><rect x="702" y="391" width="3" height="1" fill="#c0c0c0"/><rect x="710" y="390" width="3" height="2" fill="#c0c0c0"/><rect x="718" y="390" width="3" height="2" fill="#c0c0c0"/><rect x="726" y="389" width="3" height="3" fill="#c0c0c0"/><rect x="734" y="386" width="3" height="6" fill="#c0c0c0"/><rect x="742" y="382" width="3" height="10" fill="#c0c0c0"/><rect x="750" y="381" width="3" height="11" fill="#c0c0c0"/><rect x="758" y="381" width="3" height="11" fill="#c0c0c0"/><rect x="766" y="380" width="3" height="12" fill="#c0c0c0"/><rect x="774" y="383" width="3" height="9" fill="#c0c0c0"/><rect x="782" y="385" width="3" height="7" fill="#c0c0c0"/><rect x="790" y="388" width="3" height="4" fill="#c0c0c0"/><rect x="798" y="389" width="3" height="3" fill="#c0c0c0"/><rect x="806" y="390" width="3" height="2" fill="#c0c0c0"/><rect x="814" y="391" width="3" height="1" fill="#c0c0c0"/><rect x="822" y="392" width="3" height="2" fill="#c0c0c0"/><rect x="830" y="392" width="3" height="5" fill="#c0c0c0"/><rect x="838" y="392" width="3" height="12" fill="#c0c0c0"/><rect x="846" y="392" width="3" height="17" fill="#c0c0c0"/><rect x="854" y="392" width="3" height="20" fill="#c0c0c0"/><rect x="862" y="392" width="3" height="20" fill="#c0c0c0"/><rect x="870" y="392" width="3" height="17" fill="#c0c0c0"/><rect x="878" y="392" width="3" height="15" fill="#c0c0c0"/><rect x="886" y="392" width="3" height="7" fill="#c0c0c0"/><rect x="894" y="392" width="3" height="1" fill="#c0c0c0"/><rect x="902" y="387" width="3" height="5" fill="#c0c0c0"/><rect x="910" y="384" width="3" height="8" fill="#c0c0c0"/></g>
<path d="M779 384h32v1h-32zM771 385h8v1h-8zM811 385h6v1h-6zM763 386h8v1h-8zM817 386h4v1h-4zM755 387h8v1h-8zM821 387h6v1h-6zM747 388h8v1h-8zM827 388h6v1h-6zM741 389h6v1h-6zM833 389h2v1h-2zM737 390h4v1h-4zM835 390h3v1h-3zM707 391h30v1h-30zM838 391h3v1h-3zM683 392h24v1h-24zM841 392h2v1h-2zM675 393h8v1h-8zM843 393h3v1h-3zM667 394h8v1h-8zM846 394h3v1h-3zM659 395h8v1h-8zM849 395h4v1h-4zM651 396h8v1h-8zM853 396h4v1h-4zM643 397h8v1h-8zM857 397h2v1h-2zM235 398h32v1h-32zM635 398h8v1h-8zM859 398h3v1h-3zM219 399h16v1h-16zM267 399h32v1h-32zM629 399h6v1h-6zM862 399h3v1h-3zM910 399h2v1h-2zM211 400h8v1h-8zM299 400h8v1h-8zM625 400h4v1h-4zM865 400h4v1h-4zM908 400h2v1h-2zM7 401h4v1h-4zM203 401h8v1h-8zM307 401h8v1h-8zM619 401h6v1h-6zM869 401h6v1h-6zM906 401h2v1h-2zM11 402h6v1h-6zM197 402h6v1h-6zM315 402h8v1h-8zM611 402h8v1h-8zM875 402h6v1h-6zM904 402h2v1h-2zM17 403h4v1h-4zM193 403h4v1h-4zM323 403h6v1h-6zM603 403h8v1h-8zM881 403h4v1h-4zM899 403h5v1h-5zM21 404h4v1h-4zM189 404h4v1h-4zM329 404h4v1h-4zM595 404h8v1h-8zM885 404h14v1h-14zM25 405h4v1h-4zM185 405h4v1h-4zM333 405h4v1h-4zM587 405h8v1h-8zM29 406h6v1h-6zM179 406h6v1h-6zM337 406h4v1h-4zM571 406h16v1h-16zM35 407h6v1h-6zM173 407h6v1h-6zM341 407h4v1h-4zM555 407h16v1h-16zM41 408h4v1h-4zM169 408h4v1h-4zM345 408h4v1h-4zM547 408h8v1h-8zM45 409h6v1h-6zM165 409h4v1h-4zM349 409h4v1h-4zM541 409h6v1h-6zM51 410h6v1h-6zM161 410h4v1h-4zM353 410h2v1h-2zM537 410h4v1h-4zM57 411h4v1h-4zM157 411h4v1h-4zM355 411h3v1h-3zM531 411h6v1h-6zM61 412h6v1h-6zM153 412h4v1h-4zM358 412h3v1h-3zM523 412h8v1h-8zM67 413h6v1h-6zM147 413h6v1h-6zM361 413h2v1h-2zM517 413h6v1h-6zM73 414h4v1h-4zM139 414h8v1h-8zM363 414h3v1h-3zM513 414h4v1h-4zM77 415h6v1h-6zM131 415h8v1h-8zM366 415h3v1h-3zM509 415h4v1h-4zM83 416h16v1h-16zM123 416h8v1h-8zM369 416h2v1h-2zM505 416h4v1h-4zM99 417h24v1h-24zM371 417h3v1h-3zM501 417h4v1h-4zM374 418h3v1h-3zM497 418h4v1h-4zM377 419h2v1h-2zM493 419h4v1h-4zM379 420h3v1h-3zM489 420h4v1h-4zM382 421h3v1h-3zM485 421h4v1h-4zM385 422h2v1h-2zM481 422h4v1h-4zM387 423h3v1h-3zM477 423h4v1h-4zM390 424h3v1h-3zM473 424h4v1h-4zM393 425h2v1h-2zM470 425h3v1h-3zM395 426h3v1h-3zM467 426h3v1h-3zM398 427h3v1h-3zM465 427h2v1h-2zM401 428h4v1h-4zM459 428h6v1h-6zM405 429h6v1h-6zM453 429h6v1h-6zM411 430h8v1h-8zM449 430h4v1h-4zM419 431h8v1h-8zM443 431h6v1h-6zM427 432h16v1h-16z" fill="#ff0000"/>
</g>
<text x="10.63" y="389" font-size="10.2" fill="#000" stroke="#000" stroke-width="0.15" textLength="151.24" lengthAdjust="spacingAndGlyphs">MACD(12,26,9) 0.001848 -0.001867</text>
<rect x="1154" y="378" width="1" height="1" fill="#000"/>
<rect x="1154" y="392" width="1" height="1" fill="#000"/>
<rect x="1154" y="439" width="1" height="1" fill="#000"/>
<text x="1157.55" y="387" font-size="10.2" fill="#000" stroke="#000" stroke-width="0.15" textLength="37.69" lengthAdjust="spacingAndGlyphs">0.003165</text>
<text x="1157.55" y="396" font-size="10.2" fill="#000" stroke="#000" stroke-width="0.15" textLength="17.59" lengthAdjust="spacingAndGlyphs">0.00</text>
<text x="1157.30" y="437" font-size="10.2" fill="#000" stroke="#000" stroke-width="0.15" textLength="35.67" lengthAdjust="spacingAndGlyphs">-0.01043</text>
<line x1="8" y1="463.5" x2="1153" y2="463.5" stroke="#c0c0c0" stroke-width="1" stroke-dasharray="3,3"/>
<line x1="8" y1="488.5" x2="1153" y2="488.5" stroke="#c0c0c0" stroke-width="1" stroke-dasharray="3,3"/>
<path d="M739 467h5v1h-5zM891 467h16v1h-16zM734 468h5v1h-5zM744 468h2v1h-2zM887 468h4v1h-4zM907 468h5v1h-5zM731 469h3v1h-3zM746 469h2v1h-2zM886 469h1v1h-1zM215 470h1v1h-1zM729 470h2v1h-2zM748 470h2v1h-2zM885 470h1v1h-1zM214 471h1v1h-1zM216 471h1v1h-1zM654 471h10v1h-10zM726 471h3v1h-3zM750 471h18v1h-18zM883 471h2v1h-2zM213 472h1v1h-1zM216 472h1v1h-1zM638 472h3v1h-3zM652 472h2v1h-2zM664 472h1v1h-1zM703 472h4v1h-4zM724 472h2v1h-2zM768 472h1v1h-1zM882 472h1v1h-1zM158 473h3v1h-3zM213 473h1v1h-1zM217 473h1v1h-1zM636 473h2v1h-2zM641 473h2v1h-2zM650 473h2v1h-2zM665 473h2v1h-2zM701 473h2v1h-2zM707 473h6v1h-6zM722 473h2v1h-2zM769 473h1v1h-1zM881 473h1v1h-1zM155 474h3v1h-3zM161 474h2v1h-2zM212 474h1v1h-1zM218 474h1v1h-1zM619 474h6v1h-6zM634 474h2v1h-2zM643 474h3v1h-3zM648 474h2v1h-2zM667 474h1v1h-1zM700 474h1v1h-1zM713 474h4v1h-4zM720 474h2v1h-2zM770 474h1v1h-1zM880 474h1v1h-1zM153 475h2v1h-2zM163 475h3v1h-3zM171 475h14v1h-14zM211 475h1v1h-1zM219 475h1v1h-1zM550 475h2v1h-2zM590 475h13v1h-13zM611 475h8v1h-8zM625 475h4v1h-4zM632 475h2v1h-2zM646 475h2v1h-2zM668 475h1v1h-1zM699 475h1v1h-1zM717 475h3v1h-3zM771 475h2v1h-2zM877 475h3v1h-3zM149 476h4v1h-4zM166 476h5v1h-5zM185 476h2v1h-2zM210 476h1v1h-1zM219 476h1v1h-1zM254 476h2v1h-2zM291 476h5v1h-5zM495 476h1v1h-1zM548 476h2v1h-2zM552 476h1v1h-1zM587 476h3v1h-3zM603 476h8v1h-8zM629 476h3v1h-3zM669 476h2v1h-2zM686 476h3v1h-3zM697 476h2v1h-2zM773 476h1v1h-1zM781 476h4v1h-4zM798 476h11v1h-11zM873 476h4v1h-4zM145 477h4v1h-4zM187 477h3v1h-3zM209 477h1v1h-1zM220 477h1v1h-1zM238 477h3v1h-3zM251 477h3v1h-3zM256 477h2v1h-2zM283 477h8v1h-8zM296 477h1v1h-1zM494 477h1v1h-1zM496 477h2v1h-2zM546 477h2v1h-2zM553 477h2v1h-2zM585 477h2v1h-2zM671 477h2v1h-2zM683 477h3v1h-3zM689 477h4v1h-4zM696 477h1v1h-1zM774 477h1v1h-1zM777 477h4v1h-4zM785 477h2v1h-2zM795 477h3v1h-3zM809 477h4v1h-4zM870 477h3v1h-3zM141 478h4v1h-4zM190 478h3v1h-3zM209 478h1v1h-1zM221 478h1v1h-1zM236 478h2v1h-2zM241 478h4v1h-4zM249 478h2v1h-2zM258 478h2v1h-2zM277 478h6v1h-6zM297 478h1v1h-1zM493 478h1v1h-1zM498 478h2v1h-2zM509 478h12v1h-12zM544 478h2v1h-2zM555 478h1v1h-1zM579 478h6v1h-6zM673 478h4v1h-4zM681 478h2v1h-2zM693 478h3v1h-3zM775 478h2v1h-2zM787 478h3v1h-3zM793 478h2v1h-2zM813 478h6v1h-6zM867 478h3v1h-3zM125 479h6v1h-6zM137 479h4v1h-4zM193 479h4v1h-4zM208 479h1v1h-1zM222 479h1v1h-1zM234 479h2v1h-2zM245 479h4v1h-4zM260 479h2v1h-2zM273 479h4v1h-4zM298 479h1v1h-1zM491 479h2v1h-2zM500 479h2v1h-2zM505 479h4v1h-4zM521 479h2v1h-2zM542 479h2v1h-2zM556 479h1v1h-1zM574 479h5v1h-5zM677 479h4v1h-4zM790 479h3v1h-3zM819 479h5v1h-5zM865 479h2v1h-2zM121 480h4v1h-4zM131 480h6v1h-6zM197 480h11v1h-11zM222 480h1v1h-1zM232 480h2v1h-2zM262 480h11v1h-11zM299 480h1v1h-1zM438 480h13v1h-13zM490 480h1v1h-1zM502 480h3v1h-3zM523 480h3v1h-3zM539 480h3v1h-3zM557 480h2v1h-2zM571 480h3v1h-3zM824 480h2v1h-2zM863 480h2v1h-2zM115 481h6v1h-6zM223 481h9v1h-9zM300 481h1v1h-1zM435 481h3v1h-3zM451 481h22v1h-22zM489 481h1v1h-1zM526 481h5v1h-5zM537 481h2v1h-2zM559 481h4v1h-4zM569 481h2v1h-2zM826 481h2v1h-2zM862 481h1v1h-1zM111 482h4v1h-4zM301 482h1v1h-1zM415 482h4v1h-4zM433 482h2v1h-2zM473 482h4v1h-4zM488 482h1v1h-1zM531 482h6v1h-6zM563 482h6v1h-6zM828 482h2v1h-2zM861 482h1v1h-1zM110 483h1v1h-1zM302 483h1v1h-1zM414 483h1v1h-1zM419 483h14v1h-14zM477 483h11v1h-11zM830 483h2v1h-2zM860 483h1v1h-1zM109 484h1v1h-1zM303 484h4v1h-4zM413 484h1v1h-1zM832 484h2v1h-2zM859 484h1v1h-1zM7 485h1v1h-1zM108 485h1v1h-1zM307 485h8v1h-8zM413 485h1v1h-1zM834 485h1v1h-1zM858 485h1v1h-1zM8 486h2v1h-2zM43 486h13v1h-13zM78 486h5v1h-5zM107 486h1v1h-1zM315 486h13v1h-13zM359 486h1v1h-1zM412 486h1v1h-1zM835 486h2v1h-2zM857 486h1v1h-1zM10 487h1v1h-1zM37 487h6v1h-6zM56 487h2v1h-2zM75 487h3v1h-3zM83 487h8v1h-8zM106 487h1v1h-1zM328 487h2v1h-2zM357 487h2v1h-2zM360 487h2v1h-2zM411 487h1v1h-1zM837 487h2v1h-2zM856 487h1v1h-1zM11 488h2v1h-2zM33 488h4v1h-4zM58 488h2v1h-2zM73 488h2v1h-2zM91 488h6v1h-6zM105 488h1v1h-1zM330 488h2v1h-2zM356 488h1v1h-1zM362 488h2v1h-2zM410 488h1v1h-1zM839 488h17v1h-17zM13 489h2v1h-2zM30 489h3v1h-3zM60 489h2v1h-2zM67 489h6v1h-6zM97 489h4v1h-4zM104 489h1v1h-1zM332 489h2v1h-2zM355 489h1v1h-1zM364 489h2v1h-2zM409 489h1v1h-1zM15 490h2v1h-2zM27 490h3v1h-3zM62 490h5v1h-5zM101 490h3v1h-3zM334 490h3v1h-3zM353 490h2v1h-2zM366 490h13v1h-13zM409 490h1v1h-1zM17 491h4v1h-4zM25 491h2v1h-2zM337 491h4v1h-4zM352 491h1v1h-1zM379 491h14v1h-14zM408 491h1v1h-1zM21 492h4v1h-4zM341 492h11v1h-11zM393 492h4v1h-4zM403 492h5v1h-5zM397 493h6v1h-6z" fill="#1e90ff"/>
<text x="10.73" y="455" font-size="10.2" fill="#000" stroke="#000" stroke-width="0.15" textLength="68.48" lengthAdjust="spacingAndGlyphs">RSI(14) 61.6633</text>
<rect x="1154" y="444" width="1" height="1" fill="#000"/>
<rect x="1154" y="507" width="1" height="1" fill="#000"/>
<text x="1156.71" y="453" font-size="10.2" fill="#000" stroke="#000" stroke-width="0.15" textLength="15.08" lengthAdjust="spacingAndGlyphs">100</text>
<text x="1156.34" y="467" font-size="10.2" fill="#000" stroke="#000" stroke-width="0.15" textLength="10.05" lengthAdjust="spacingAndGlyphs">70</text>
<text x="1156.46" y="492" font-size="10.2" fill="#000" stroke="#000" stroke-width="0.15" textLength="10.05" lengthAdjust="spacingAndGlyphs">30</text>
<text x="1157.05" y="505" font-size="10.2" fill="#000" stroke="#000" stroke-width="0.15" textLength="5.03" lengthAdjust="spacingAndGlyphs">0</text>
<rect x="7" y="509" width="1" height="3" fill="#000"/>
<text x="5.74" y="521" font-size="10.2" fill="#000" stroke="#000" stroke-width="0.15" textLength="52.21" lengthAdjust="spacingAndGlyphs">28 Sep 2021</text>
<rect x="71" y="509" width="1" height="3" fill="#000"/>
<text x="69.72" y="521" font-size="10.2" fill="#000" stroke="#000" stroke-width="0.15" textLength="46.14" lengthAdjust="spacingAndGlyphs">7 Oct 2021</text>
<rect x="135" y="509" width="1" height="3" fill="#000"/>
<text x="133.68" y="521" font-size="10.2" fill="#000" stroke="#000" stroke-width="0.15" textLength="51.38" lengthAdjust="spacingAndGlyphs">17 Oct 2021</text>
<rect x="199" y="509" width="1" height="3" fill="#000"/>
<text x="197.52" y="521" font-size="10.2" fill="#000" stroke="#000" stroke-width="0.15" textLength="52.15" lengthAdjust="spacingAndGlyphs">26 Oct 2021</text>
<rect x="263" y="509" width="1" height="3" fill="#000"/>
<text x="261.88" y="521" font-size="10.2" fill="#000" stroke="#000" stroke-width="0.15" textLength="48.89" lengthAdjust="spacingAndGlyphs">4 Nov 2021</text>
<rect x="327" y="509" width="1" height="3" fill="#000"/>
<text x="325.98" y="521" font-size="10.2" fill="#000" stroke="#000" stroke-width="0.15" textLength="53.99" lengthAdjust="spacingAndGlyphs">14 Nov 2021</text>
<rect x="391" y="509" width="1" height="3" fill="#000"/>
<text x="389.82" y="521" font-size="10.2" fill="#000" stroke="#000" stroke-width="0.15" textLength="54.25" lengthAdjust="spacingAndGlyphs">23 Nov 2021</text>
<rect x="455" y="509" width="1" height="3" fill="#000"/>
<text x="453.94" y="521" font-size="10.2" fill="#000" stroke="#000" stroke-width="0.15" textLength="46.70" lengthAdjust="spacingAndGlyphs">2 Dec 2021</text>
<rect x="519" y="509" width="1" height="3" fill="#000"/>
<text x="518.10" y="521" font-size="10.2" fill="#000" stroke="#000" stroke-width="0.15" textLength="52.15" lengthAdjust="spacingAndGlyphs">12 Dec 2021</text>
<rect x="583" y="509" width="1" height="3" fill="#000"/>
<text x="582.44" y="521" font-size="10.2" fill="#000" stroke="#000" stroke-width="0.15" textLength="51.70" lengthAdjust="spacingAndGlyphs">21 Dec 2021</text>
<rect x="647" y="509" width="1" height="3" fill="#000"/>
<text x="646.15" y="521" font-size="10.2" fill="#000" stroke="#000" stroke-width="0.15" textLength="51.59" lengthAdjust="spacingAndGlyphs">30 Dec 2021</text>
<rect x="711" y="509" width="1" height="3" fill="#000"/>
<text x="709.97" y="521" font-size="10.2" fill="#000" stroke="#000" stroke-width="0.15" textLength="44.88" lengthAdjust="spacingAndGlyphs">9 Jan 2022</text>
<rect x="775" y="509" width="1" height="3" fill="#000"/>
<text x="773.61" y="521" font-size="10.2" fill="#000" stroke="#000" stroke-width="0.15" textLength="50.25" lengthAdjust="spacingAndGlyphs">18 Jan 2022</text>
<rect x="839" y="509" width="1" height="3" fill="#000"/>
<text x="838.04" y="521" font-size="10.2" fill="#000" stroke="#000" stroke-width="0.15" textLength="50.11" lengthAdjust="spacingAndGlyphs">27 Jan 2022</text>
<rect x="903" y="509" width="1" height="3" fill="#000"/>
<text x="901.62" y="521" font-size="10.2" fill="#000" stroke="#000" stroke-width="0.15" textLength="47.45" lengthAdjust="spacingAndGlyphs">6 Feb 2022</text>
<rect x="0" y="529" width="1193" height="1" fill="#e3e3e3"/>
<rect x="0" y="530" width="1193" height="1" fill="#ffffff"/>
<rect x="2" y="531" width="1191" height="1" fill="#000"/>
<rect x="0" y="532" width="1193" height="19" fill="#f0f0f0"/>
<rect x="0" y="551" width="1193" height="1" fill="#ffffff"/>
<rect x="0" y="552" width="1193" height="3" fill="#f7f7f7"/>
<rect x="0" y="555" width="1193" height="1" fill="#a0a0a0"/>
<rect x="2" y="532" width="1" height="18" fill="#a0a0a0"/>
<rect x="3" y="532" width="1" height="18" fill="#696969"/>
<rect x="0" y="549" width="3" height="1" fill="#a0a0a0"/>
<rect x="108" y="530" width="108" height="20" fill="#ffffff"/>
<rect x="108" y="531" width="1" height="19" fill="#000"/>
<rect x="215" y="531" width="1" height="19" fill="#000"/>
<rect x="108" y="549" width="108" height="1" fill="#000"/>
<rect x="107" y="532" width="1" height="18" fill="#ffffff"/>
<rect x="216" y="532" width="1" height="18" fill="#ffffff"/>
<text x="18.85" y="546" font-size="12.5" fill="#6d6d6d" textLength="78.18" lengthAdjust="spacingAndGlyphs">USDX,Weekly</text>
<text x="118.40" y="546" font-size="12.5" fill="#000" textLength="85.62" lengthAdjust="spacingAndGlyphs">EURUSD-,Daily</text>
<text x="225.98" y="546" font-size="12.5" fill="#6d6d6d" textLength="86.65" lengthAdjust="spacingAndGlyphs">AUDUSD-,Daily</text>
<text x="335.07" y="546" font-size="12.5" fill="#6d6d6d" textLength="84.96" lengthAdjust="spacingAndGlyphs">USDCHF-,Daily</text>
<text x="442.66" y="546" font-size="12.5" fill="#6d6d6d" textLength="86.37" lengthAdjust="spacingAndGlyphs">USDCAD-,Daily</text>
<text x="551.04" y="546" font-size="12.5" fill="#6d6d6d" textLength="88.99" lengthAdjust="spacingAndGlyphs">USDCNH-,Daily</text>
<text x="662.52" y="546" font-size="12.5" fill="#6d6d6d" textLength="74.68" lengthAdjust="spacingAndGlyphs">XAUUSD-,H1</text>
<text x="758.01" y="546" font-size="12.5" fill="#6d6d6d" textLength="70.01" lengthAdjust="spacingAndGlyphs">UKOil-,Daily</text>
<text x="850.97" y="546" font-size="12.5" fill="#6d6d6d" textLength="65.06" lengthAdjust="spacingAndGlyphs">DJ30-,Daily</text>
<text x="938.73" y="546" font-size="12.5" fill="#6d6d6d" textLength="62.59" lengthAdjust="spacingAndGlyphs">UK100-,H1</text>
<rect x="324" y="534" width="1" height="14" fill="#6d6d6d"/>
<rect x="433" y="534" width="1" height="14" fill="#6d6d6d"/>
<rect x="541" y="534" width="1" height="14" fill="#6d6d6d"/>
<rect x="653" y="534" width="1" height="14" fill="#6d6d6d"/>
<rect x="749" y="534" width="1" height="14" fill="#6d6d6d"/>
<rect x="841" y="534" width="1" height="14" fill="#6d6d6d"/>
<rect x="929" y="534" width="1" height="14" fill="#6d6d6d"/>
<rect x="1013" y="534" width="1" height="14" fill="#6d6d6d"/>
<polygon points="1172.2,536.8 1172.2,543.2 1168.8,540" fill="#8a8a8a"/>
<polygon points="1187.8,536.8 1187.8,543.2 1191.2,540" fill="#8a8a8a"/>
</svg>
</body></html>
